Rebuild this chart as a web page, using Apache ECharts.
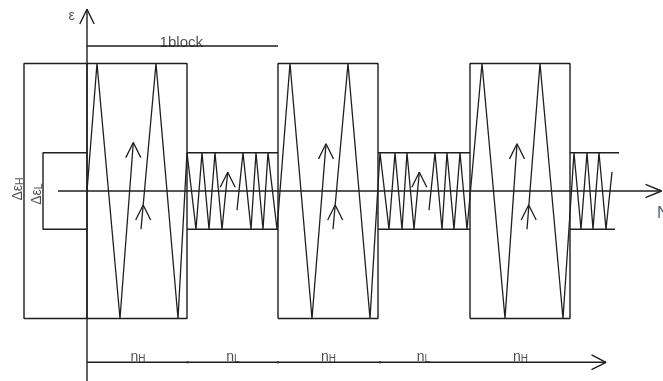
<!DOCTYPE html>
<html>
<head>
<meta charset="utf-8">
<script src="https://cdn.jsdelivr.net/npm/echarts@6/dist/echarts.min.js"></script>
<style>
  html, body { margin: 0; padding: 0; background: #fff; }
  #chart { width: 663px; height: 381px; }
</style>
</head>
<body>
<div id="chart"></div>
<script>
// Block loading schematic: strain amplitude ε versus cycles N.
// x unit = cycles (one high block spans 10), y unit = strain (high amplitude = 1).

const xRange = [-8.7, 57.6];
const yRange = [-1.49, 1.498];

// strain amplitude levels
const highAmp = 1.0;
const lowAmp = 0.3;

// high-amplitude blocks [start, end]
const highBlocks = [[0, 10], [19.1, 29.1], [38.3, 48.3]];
// low-amplitude bands [start, end of upper line, end of lower line]
const lowBands = [[10, 19.1, 19.1], [29.1, 38.3, 38.3], [48.3, 53.2, 52.8]];

// range boxes on the left: Δε_H and Δε_L
const rangeBoxH = { x: -6.3, amp: highAmp };
const rangeBoxL = { x: -4.4, amp: lowAmp };

// strain history, split where the cycle count is abbreviated
const loadPaths = [
  [[0, 0], [1.0, 1], [3.3, -1], [4.63, 0.38]],
  [[5.4, -0.3], [6.9, 1], [9.1, -1], [10.0, 0.3], [10.9, -0.3], [11.5, 0.3], [12.2, -0.3],
   [12.8, 0.3], [13.5, -0.3], [14.07, 0.147]],
  [[15.0, -0.15], [15.6, 0.3], [16.4, -0.3], [16.9, 0.3], [17.6, -0.3], [18.1, 0.3], [19.0, -0.3],
   [20.3, 1], [22.5, -1], [23.9, 0.37]],
  [[24.6, -0.3], [26.1, 1], [28.3, -1], [29.3, 0.3], [30.2, -0.3], [30.8, 0.3], [31.5, -0.3],
   [32.0, 0.3], [32.7, -0.3], [33.23, 0.147]],
  [[34.2, -0.15], [34.8, 0.3], [35.5, -0.3], [36.0, 0.3], [36.7, -0.3], [37.3, 0.3], [38.0, -0.3],
   [39.5, 1], [41.8, -1], [43.0, 0.37]],
  [[44.0, -0.3], [45.3, 1], [47.6, -1], [48.7, 0.3], [49.4, -0.3], [50.0, 0.3], [50.6, -0.3],
   [51.2, 0.3], [51.9, -0.3], [52.5, 0.15]]
];

// direction arrows on the strain history (tips)
const arrowTips = [
  [4.63, 0.38], [5.62, -0.11], [14.07, 0.147],
  [23.9, 0.37], [24.82, -0.11], [33.23, 0.147],
  [43.0, 0.37], [44.17, -0.11]
];

// axes
const strainAxis = { x: 0, from: -1.49, to: 1.425 };
const cycleAxis = { y: 0, from: -2.9, to: 57.45 };
const sequenceAxis = { y: -1.343, from: 0, to: 51.9 };
const blockSpan = { y: 1.137, from: 0, to: 19.1 };
const sequenceTicks = [10.06, 19.1, 29.3];

// texts
const strainTitle = 'ε';
const cycleTitle = 'N';
const blockTitle = '1block';
const stepLetters = ['H', 'L', 'H', 'L', 'H'];
const stepCenters = [5.1, 14.6, 24.15, 33.65, 43.35];

const ink = '#1f1f1f';
const lw = 1.4;
const fontFamily = '"Liberation Sans", Arial, sans-serif';

function poly(points, width) {
  return {
    type: 'line',
    data: points,
    showSymbol: false,
    symbol: 'none',
    silent: true,
    animation: false,
    lineStyle: { color: ink, width: width || lw },
    z: 3
  };
}

const series = [];

// high blocks: closed rectangles
highBlocks.forEach(([a, b]) => {
  series.push(poly([[a, -highAmp], [a, highAmp], [b, highAmp], [b, -highAmp], [a, -highAmp]]));
});
// low bands: upper and lower lines
lowBands.forEach(([a, bTop, bBot]) => {
  series.push(poly([[a, lowAmp], [bTop, lowAmp]]));
  series.push(poly([[a, -lowAmp], [bBot, -lowAmp]]));
});
// Δε boxes
series.push(poly([[0, rangeBoxH.amp], [rangeBoxH.x, rangeBoxH.amp], [rangeBoxH.x, -rangeBoxH.amp], [0, -rangeBoxH.amp]]));
series.push(poly([[0, rangeBoxL.amp], [rangeBoxL.x, rangeBoxL.amp], [rangeBoxL.x, -rangeBoxL.amp], [0, -rangeBoxL.amp]]));

// strain history
loadPaths.forEach(p => series.push(poly(p, 1.3)));

// arrowheads on the history
const wingX = 0.75, wingY = 0.118;
arrowTips.forEach(([x, y]) => {
  series.push(poly([[x - wingX, y - wingY], [x, y], [x + wingX, y - wingY]], 1.3));
});

// ε axis with open arrowhead
series.push(poly([[strainAxis.x, strainAxis.from], [strainAxis.x, strainAxis.to]]));
series.push(poly([[strainAxis.x - 0.72, strainAxis.to - 0.115], [strainAxis.x, strainAxis.to], [strainAxis.x + 0.72, strainAxis.to - 0.115]]));

// N axis
series.push(poly([[cycleAxis.from, cycleAxis.y], [cycleAxis.to, cycleAxis.y]]));
series.push(poly([[cycleAxis.to - 1.6, cycleAxis.y + 0.052], [cycleAxis.to, cycleAxis.y], [cycleAxis.to - 1.6, cycleAxis.y - 0.052]]));

// sequence axis at the bottom
series.push(poly([[sequenceAxis.from, sequenceAxis.y], [sequenceAxis.to, sequenceAxis.y]]));
series.push(poly([[sequenceAxis.to - 1.45, sequenceAxis.y + 0.058], [sequenceAxis.to, sequenceAxis.y], [sequenceAxis.to - 1.45, sequenceAxis.y - 0.058]]));

// one-block span bar
series.push(poly([[blockSpan.from, blockSpan.y], [blockSpan.to, blockSpan.y]]));

// small ticks on the sequence axis
series.push({
  type: 'scatter',
  data: sequenceTicks.map(x => [x, sequenceAxis.y]),
  symbol: 'circle',
  symbolSize: 2.5,
  itemStyle: { color: '#444' },
  silent: true,
  animation: false
});

// text labels
function textPoint(pos, text, opts) {
  return {
    value: pos,
    label: Object.assign({
      show: true,
      position: [0, 0],
      formatter: text,
      color: ink,
      fontFamily: fontFamily,
      fontSize: 14,
      align: 'center',
      verticalAlign: 'middle'
    }, opts || {})
  };
}

const subRich = {
  b: { fontSize: 14, fontFamily: fontFamily, color: ink, verticalAlign: 'bottom', lineHeight: 15 },
  s: { fontSize: 10.5, fontFamily: fontFamily, color: ink, verticalAlign: 'bottom', lineHeight: 15 },
  n: { fontSize: 14, fontFamily: fontFamily, color: ink, verticalAlign: 'bottom', lineHeight: 14 },
  t: { fontSize: 10, fontFamily: fontFamily, color: ink, verticalAlign: 'bottom', lineHeight: 14 }
};

const textData = [
  textPoint([-1.55, 1.373], strainTitle, { fontSize: 14 }),
  textPoint([9.43, 1.16], blockTitle, { fontSize: 15 }),
  textPoint([57.0, -0.176], cycleTitle, { fontSize: 17, align: 'left', color: '#2e3845' }),
  textPoint([-6.93, 0.016], '{b|Δε}{s|H}', { rotate: 90, rich: subRich }),
  textPoint([-5.03, -0.024], '{b|Δε}{s|L}', { rotate: 90, rich: subRich })
];
stepLetters.forEach((s, i) => {
  textData.push(textPoint([stepCenters[i], -1.36], '{n|n}{t|' + s + '}', { verticalAlign: 'bottom', rich: subRich }));
});

series.push({
  type: 'scatter',
  data: textData,
  symbolSize: 0,
  silent: true,
  animation: false,
  z: 5
});

const chart = echarts.init(document.getElementById('chart'));
chart.setOption({
  animation: false,
  backgroundColor: '#ffffff',
  grid: { left: 0, right: 0, top: 0, bottom: 0 },
  xAxis: { type: 'value', min: xRange[0], max: xRange[1], show: false },
  yAxis: { type: 'value', min: yRange[0], max: yRange[1], show: false },
  series: series
});
</script>
</body>
</html>
